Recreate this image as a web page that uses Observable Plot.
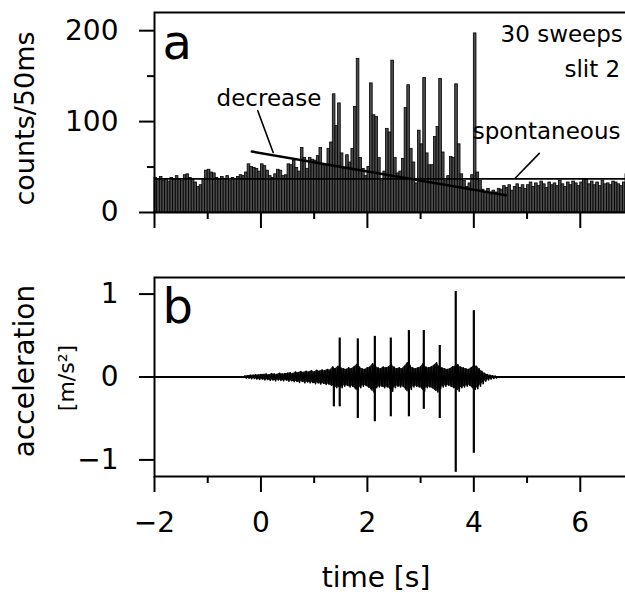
<!DOCTYPE html>
<html><head><meta charset="utf-8">
<script src="https://cdn.jsdelivr.net/npm/d3@7"></script>
<script src="https://cdn.jsdelivr.net/npm/@observablehq/plot@0.6"></script>
<style>
html,body{margin:0;padding:0;background:#fff;overflow:hidden;width:625px;height:596px}
#chart svg{display:block}
</style></head><body><div id="chart"></div>
<script>
// ---- panel a: peristimulus histogram, 50 ms bins from -2 s ----
const binStart = -2, binWidth = 0.05;
const counts = [
  38,36,39,35,37,34,38,36,40,37,
  35,41,42,38,36,33,28,30,36,46,
  47,44,43,38,36,39,37,40,35,38,
  37,39,41,40,44,53,50,49,48,45,
  53,51,46,40,38,42,47,46,40,41,
  53,52,57,49,45,71,60,48,60,58,
  57,62,71,52,52,70,77,130,95,120,
  65,48,63,55,70,116,169,60,48,40,
  50,142,107,105,60,35,45,92,88,167,
  60,43,45,59,115,140,70,55,32,90,
  75,148,65,52,52,83,94,147,66,35,
  40,61,60,141,75,42,35,28,32,41,
  197,44,35,25,22,26,20,24,22,26,
  25,29,27,30,24,28,31,27,30,26,
  30,33,28,32,29,34,31,27,33,30,
  32,29,35,31,28,33,30,34,32,29,
  33,37,36,31,34,30,33,29,35,31,
  32,30,34,33,31,29,33,42,32,30
];
const spontaneousLevel = 37;
const decreaseT = [-0.17, 4.6];
const decreaseC = [67, 19];
const annoLabel = ["decrease", "spontaneous", "30 sweeps", "slit 2"];
const annoT = [0.15, 3.98, 6.8, 6.75];
const annoC = [125, 89, 196, 157];
const annoAnchor = ["middle", "start", "end", "end"];
const pointerT = [[-0.06, 0.23], [5.23, 4.78]];
const pointerC = [[112, 66], [65, 38]];
const countTicksMajor = [0, 100, 200];
const countTicksMinor = [50, 150];

// ---- panel b: acceleration ----
const noiseT0 = -0.3, noiseStep = 0.05;
const noiseHi = [
  0.012,0.015,0.02,0.02,0.025,0.025,0.03,
  0.03,0.035,0.025,0.04,0.035,0.03,0.045,0.035,0.04,0.045,
  0.05,0.04,0.06,0.05,0.065,0.055,0.07,0.06,0.075,0.06,
  0.08,0.07,0.085,0.075,0.09,0.085,0.12,0.1,0.13,0.11,
  0.1,0.09,0.11,0.1,0.12,0.15,0.12,0.1,0.09,0.11,
  0.12,0.16,0.13,0.11,0.1,0.12,0.11,0.12,0.15,0.12,
  0.1,0.11,0.1,0.13,0.17,0.14,0.11,0.1,0.11,0.12,
  0.16,0.12,0.11,0.12,0.14,0.17,0.13,0.11,0.1,0.09,
  0.1,0.12,0.13,0.15,0.12,0.11,0.1,0.09,0.11,0.14,
  0.13,0.1,0.07,0.045,0.03,0.02,0.015,0.012
];
const noiseLo = [
  -0.012,-0.015,-0.02,-0.018,-0.025,-0.03,-0.025,
  -0.035,-0.03,-0.04,-0.035,-0.045,-0.035,-0.04,-0.045,-0.035,-0.05,
  -0.045,-0.055,-0.05,-0.065,-0.05,-0.07,-0.06,-0.07,-0.065,-0.08,
  -0.07,-0.085,-0.075,-0.09,-0.085,-0.1,-0.11,-0.13,-0.12,-0.13,
  -0.11,-0.1,-0.12,-0.11,-0.13,-0.17,-0.13,-0.11,-0.1,-0.12,
  -0.14,-0.18,-0.13,-0.12,-0.11,-0.13,-0.12,-0.13,-0.17,-0.13,
  -0.11,-0.12,-0.11,-0.14,-0.18,-0.15,-0.12,-0.11,-0.12,-0.13,
  -0.17,-0.13,-0.12,-0.13,-0.15,-0.18,-0.14,-0.12,-0.11,-0.1,
  -0.11,-0.13,-0.14,-0.17,-0.13,-0.12,-0.11,-0.1,-0.12,-0.15,
  -0.14,-0.11,-0.08,-0.05,-0.035,-0.025,-0.018,-0.012
];
const spikeT    = [1.37, 1.48, 1.82, 2.14, 2.44, 2.78, 3.06, 3.36, 3.66, 4.00];
const spikeUp   = [0.10, 0.47, 0.46, 0.49, 0.47, 0.56, 0.56, 0.38, 1.03, 0.80];
const spikeDown = [-0.36,-0.36,-0.50,-0.54,-0.48,-0.48,-0.39,-0.50,-1.15,-0.92];
const accTicks = [-1, 0, 1];

const timeTicksMajor = [-2, 0, 2, 4, 6];
const timeTicksMinor = [-1, 1, 3, 5, 7];

// ---- derived tables ----
const bars = counts.map((c, i) => ({t0: binStart + i * binWidth, t1: binStart + (i + 1) * binWidth, c}));
const decrease = decreaseT.map((t, i) => ({t, c: decreaseC[i]}));
const annos = annoLabel.map((label, i) => ({label, t: annoT[i], c: annoC[i], anchor: annoAnchor[i]}));
const pointers = pointerT.flatMap((ts, k) => ts.map((t, j) => ({k, t, c: pointerC[k][j]})));
// noise trace: zigzag between the upper and lower excursion of each 50 ms step
const noiseTrace = noiseHi.flatMap((hi, i) => [
  {t: noiseT0 + i * noiseStep, v: hi},
  {t: noiseT0 + (i + 0.5) * noiseStep, v: noiseLo[i]}
]);
const noiseBand = noiseHi.map((hi, i) => ({t: noiseT0 + i * noiseStep, hi, lo: noiseLo[i]}));
const spikes = spikeT.map((t, i) => ({t, up: spikeUp[i], down: spikeDown[i]}));

const FONT = "DejaVu Sans";
const W = 640, ML = 154, MR = 7;
const fmt = d => d < 0 ? "\u2212" + Math.abs(d) : String(d);

const panelA = Plot.plot({
  width: W, height: 240,
  marginLeft: ML, marginRight: MR, marginTop: 12, marginBottom: 28,
  x: {domain: [-2, 7]},
  y: {domain: [0, 220]},
  style: {fontFamily: FONT, background: "white", maxWidth: "none", overflow: "visible"},
  marks: [
    Plot.rectY(bars, {x1: "t0", x2: "t1", y: "c", fill: "#4a4a4a", stroke: "black", strokeWidth: 0.8}),
    Plot.ruleY([spontaneousLevel], {strokeWidth: 1.6}),
    Plot.line(decrease, {x: "t", y: "c", strokeWidth: 2.6}),
    Plot.line(pointers, {x: "t", y: "c", z: "k", strokeWidth: 1.6}),
    ...["start", "middle", "end"].map(a =>
      Plot.text(annos.filter(d => d.anchor === a), {x: "t", y: "c", text: "label", textAnchor: a,
        fontSize: 23, fontFamily: FONT})),
    Plot.text(["a"], {frameAnchor: "top-left", dx: 8, dy: 46, lineAnchor: "bottom", textAnchor: "start", fontSize: 48, fontFamily: FONT}),
    Plot.text(["counts/50ms"], {frameAnchor: "left", dx: -129, dy: 6, rotate: -90, textAnchor: "middle", lineAnchor: "middle", fontSize: 27, fontFamily: FONT}),
    Plot.frame({strokeWidth: 2}),
    Plot.axisY({ticks: countTicksMajor, tickSize: 15, tickPadding: 21, fontSize: 28, strokeWidth: 2, label: null, tickFormat: fmt}),
    Plot.axisY({ticks: countTicksMinor, tickSize: 7, strokeWidth: 2, label: null, tickFormat: () => ""}),
    Plot.axisX({ticks: timeTicksMajor, tickSize: 16, strokeWidth: 2, label: null, tickFormat: () => ""}),
    Plot.axisX({ticks: timeTicksMinor, tickSize: 7, strokeWidth: 2, label: null, tickFormat: () => ""})
  ]
});

const panelB = Plot.plot({
  width: W, height: 356,
  marginLeft: ML, marginRight: MR, marginTop: 37, marginBottom: 120,
  x: {domain: [-2, 7]},
  y: {domain: [-1.2, 1.2]},
  style: {fontFamily: FONT, background: "white", maxWidth: "none", overflow: "visible"},
  marks: [
    Plot.ruleY([0], {strokeWidth: 1.8}),
    Plot.areaY(noiseBand, {x: "t", y1: "lo", y2: "hi", fill: "black", fillOpacity: 0.85}),
    Plot.line(noiseTrace, {x: "t", y: "v", strokeWidth: 1.6}),
    Plot.ruleX(spikes, {x: "t", y1: "down", y2: "up", strokeWidth: 2.2}),
    Plot.text(["b"], {frameAnchor: "top-left", dx: 8, dy: 45, lineAnchor: "bottom", textAnchor: "start", fontSize: 48, fontFamily: FONT}),
    Plot.text(["acceleration"], {frameAnchor: "left", dx: -129, dy: -6, rotate: -90, textAnchor: "middle", lineAnchor: "middle", fontSize: 28, fontFamily: FONT}),
    Plot.text(["[m/s²]"], {frameAnchor: "left", dx: -88, dy: 1, rotate: -90, textAnchor: "middle", lineAnchor: "middle", fontSize: 22, fontFamily: FONT}),
    Plot.text(["time [s]"], {frameAnchor: "bottom", dx: -18, dy: 102, lineAnchor: "middle", fontSize: 28, fontFamily: FONT}),
    Plot.frame({strokeWidth: 2}),
    Plot.axisY({ticks: accTicks, tickSize: 15, tickPadding: 21, fontSize: 28, strokeWidth: 2, label: null, tickFormat: fmt}),
    Plot.axisX({ticks: timeTicksMajor, tickSize: 16, tickPadding: 20, fontSize: 28, strokeWidth: 2, label: null, tickFormat: fmt}),
    Plot.axisX({ticks: timeTicksMinor, tickSize: 7, strokeWidth: 2, label: null, tickFormat: () => ""})
  ]
});

document.getElementById("chart").append(panelA, panelB);
</script></body></html>
